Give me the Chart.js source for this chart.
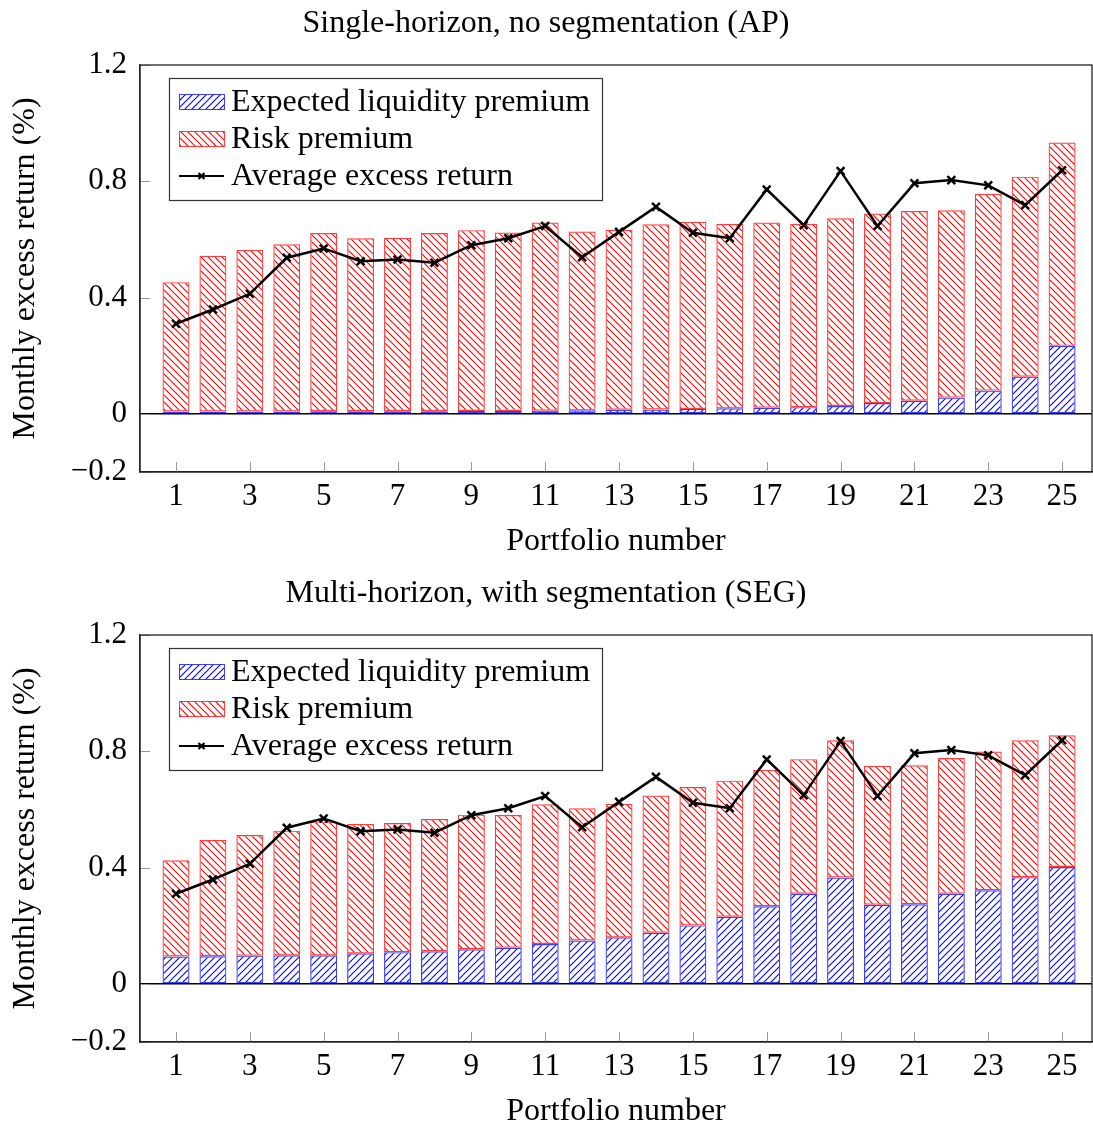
<!DOCTYPE html>
<html>
<head>
<meta charset="utf-8">
<title>Liquidity and risk premia by portfolio</title>
<script src="https://cdn.jsdelivr.net/npm/chart.js@4/dist/chart.umd.min.js"></script>
<style>
  html, body { margin: 0; padding: 0; background: #fff; overflow: hidden; }
  .panel { position: absolute; left: 0; width: 1093px; height: 570px; }
</style>
</head>
<body>
<div class="panel" style="top:0"><canvas id="apChart" width="1093" height="570"></canvas></div>
<div class="panel" style="top:570px"><canvas id="segChart" width="1093" height="570"></canvas></div>
<script>
// Portfolio numbers and axis ticks
const portfolios = [1, 2, 3, 4, 5, 6, 7, 8, 9, 10, 11, 12, 13, 14, 15, 16, 17, 18, 19, 20, 21, 22, 23, 24, 25];
const xTickValues = [1, 3, 5, 7, 9, 11, 13, 15, 17, 19, 21, 23, 25];
const yTickValues = [-0.2, 0, 0.4, 0.8, 1.2];

// Average monthly excess return (%), same in both panels
const avgExcessReturn = [0.310, 0.359, 0.413, 0.537, 0.569, 0.525, 0.531, 0.520, 0.580, 0.604,
                         0.646, 0.539, 0.626, 0.712, 0.623, 0.604, 0.772, 0.649, 0.835, 0.646,
                         0.793, 0.804, 0.786, 0.718, 0.838];

// Single-horizon, no segmentation (AP)
const apLiquidityPremium = [0.008, 0.008, 0.008, 0.008, 0.009, 0.009, 0.009, 0.009, 0.010, 0.010,
                            0.011, 0.012, 0.014, 0.015, 0.017, 0.019, 0.021, 0.023, 0.027, 0.037,
                            0.045, 0.056, 0.080, 0.128, 0.234];
const apRiskPremium = [0.445, 0.536, 0.556, 0.575, 0.613, 0.595, 0.597, 0.613, 0.622, 0.614,
                       0.647, 0.615, 0.619, 0.637, 0.644, 0.634, 0.637, 0.631, 0.646, 0.652,
                       0.653, 0.644, 0.677, 0.688, 0.699];

// Multi-horizon, with segmentation (SEG)
const segLiquidityPremium = [0.094, 0.095, 0.097, 0.098, 0.098, 0.105, 0.109, 0.112, 0.119, 0.124,
                             0.137, 0.149, 0.160, 0.176, 0.201, 0.231, 0.267, 0.310, 0.366, 0.272,
                             0.274, 0.310, 0.322, 0.367, 0.402];
const segRiskPremium = [0.331, 0.400, 0.415, 0.429, 0.460, 0.445, 0.444, 0.455, 0.463, 0.457,
                        0.481, 0.455, 0.459, 0.472, 0.476, 0.468, 0.469, 0.463, 0.472, 0.478,
                        0.478, 0.467, 0.477, 0.471, 0.453];

const SERIF = "'Liberation Serif', 'DejaVu Serif', serif";

// Diagonal hatch fill: 'ne' = north-east lines (/), 'nw' = north-west lines (\)
function hatchPattern(color, dir) {
  const s = 7;
  const c = document.createElement('canvas');
  c.width = s; c.height = s;
  const g = c.getContext('2d');
  g.strokeStyle = color;
  g.lineWidth = 1.1;
  g.beginPath();
  if (dir === 'ne') {
    g.moveTo(-1, s + 1); g.lineTo(s + 1, -1);
    g.moveTo(-1, 1); g.lineTo(1, -1);
    g.moveTo(s - 1, s + 1); g.lineTo(s + 1, s - 1);
  } else {
    g.moveTo(-1, -1); g.lineTo(s + 1, s + 1);
    g.moveTo(s - 1, -1); g.lineTo(s + 1, 1);
    g.moveTo(-1, s - 1); g.lineTo(1, s + 1);
  }
  g.stroke();
  return g.createPattern(c, 'repeat');
}

// Box around the plot plus short inward tick marks
const framePlugin = {
  id: 'frame',
  afterDatasetsDraw(chart) {
    const { ctx, chartArea: a, scales: { x, y } } = chart;
    ctx.save();
    ctx.strokeStyle = '#999';
    ctx.lineWidth = 1;
    ctx.beginPath();
    xTickValues.forEach(v => {
      const px = Math.round(x.getPixelForValue(v)) + 0.5;
      ctx.moveTo(px, a.bottom); ctx.lineTo(px, a.bottom - 10);
    });
    yTickValues.forEach(v => {
      const py = Math.round(y.getPixelForValue(v)) + 0.5;
      ctx.moveTo(a.left, py); ctx.lineTo(a.left + 10, py);
    });
    ctx.stroke();
    ctx.strokeStyle = '#222';
    ctx.lineWidth = 1.3;
    ctx.strokeRect(a.left, a.top, a.right - a.left, a.bottom - a.top);
    ctx.restore();
  }
};

// Boxed legend in the upper-left corner of the plot
const boxedLegendPlugin = {
  id: 'boxedLegend',
  afterDraw(chart) {
    const { ctx, chartArea: a } = chart;
    const left = a.left + 29, top = a.top + 13, w = 433, h = 122;
    ctx.save();
    ctx.fillStyle = '#fff';
    ctx.fillRect(left, top, w, h);
    ctx.strokeStyle = '#333';
    ctx.lineWidth = 1.2;
    ctx.strokeRect(left + 0.5, top + 0.5, w, h);
    const order = [1, 2, 0]; // liquidity, risk, average return
    order.forEach((di, row) => {
      const ds = chart.data.datasets[di];
      const cy = top + 24 + row * 37;
      const sx = left + 10, sw = 45;
      if (ds.type === 'line') {
        ctx.strokeStyle = '#000';
        ctx.lineWidth = 2.2;
        ctx.beginPath();
        ctx.moveTo(sx, cy); ctx.lineTo(sx + sw, cy);
        ctx.stroke();
        const d = 3;
        ctx.beginPath();
        ctx.moveTo(sx + sw / 2 - d, cy - d); ctx.lineTo(sx + sw / 2 + d, cy + d);
        ctx.moveTo(sx + sw / 2 - d, cy + d); ctx.lineTo(sx + sw / 2 + d, cy - d);
        ctx.stroke();
      } else {
        ctx.fillStyle = ds.backgroundColor;
        ctx.fillRect(sx, cy - 7.5, sw, 15);
        ctx.strokeStyle = ds.borderColor;
        ctx.lineWidth = 1;
        ctx.strokeRect(sx + 0.5, cy - 7.5, sw, 15);
      }
      ctx.fillStyle = '#000';
      ctx.font = '32px ' + SERIF;
      ctx.textBaseline = 'middle';
      ctx.textAlign = 'left';
      ctx.fillText(ds.label, sx + sw + 7, cy + 1);
    });
    ctx.restore();
  }
};

function makeChart(canvasId, titleText, liquidity, risk) {
  const canvas = document.getElementById(canvasId);
  const ctx = canvas.getContext('2d');
  const blueHatch = hatchPattern('#0000ff', 'ne');
  const redHatch = hatchPattern('#ff0000', 'nw');
  return new Chart(ctx, {
    type: 'bar',
    data: {
      datasets: [
        {
          type: 'line',
          label: 'Average excess return',
          data: portfolios.map((p, i) => ({ x: p, y: avgExcessReturn[i] })),
          stack: 'avg',
          order: 0,
          borderColor: '#000',
          backgroundColor: '#000',
          borderWidth: 2.5,
          tension: 0,
          pointStyle: 'crossRot',
          pointRadius: 5.5,
          pointBorderWidth: 2.5,
          pointBorderColor: '#000'
        },
        {
          label: 'Expected liquidity premium',
          data: portfolios.map((p, i) => ({ x: p, y: liquidity[i] })),
          stack: 'premium',
          order: 1,
          backgroundColor: blueHatch,
          borderColor: 'rgba(40,40,255,0.9)',
          borderWidth: 1.2,
          borderSkipped: false,
          barPercentage: 0.73,
          categoryPercentage: 1
        },
        {
          label: 'Risk premium',
          data: portfolios.map((p, i) => ({ x: p, y: risk[i] })),
          stack: 'premium',
          order: 1,
          backgroundColor: redHatch,
          borderColor: 'rgba(255,40,40,0.9)',
          borderWidth: 1.2,
          borderSkipped: false,
          barPercentage: 0.73,
          categoryPercentage: 1
        }
      ]
    },
    options: {
      responsive: false,
      animation: false,
      layout: { autoPadding: false, padding: { left: 0, right: 1, top: 0, bottom: 0 } },
      plugins: {
        legend: { display: false },
        tooltip: { enabled: false },
        title: {
          display: true,
          text: titleText,
          color: '#000',
          font: { family: SERIF, size: 32, weight: 'normal', lineHeight: 1.2 },
          padding: { top: 4, bottom: 22.6 }
        }
      },
      scales: {
        x: {
          type: 'linear',
          stacked: true,
          offset: false,
          min: 0.025,
          max: 25.81,
          afterBuildTicks: s => { s.ticks = xTickValues.map(v => ({ value: v })); },
          afterFit: s => { s.height = 98; },
          grid: { display: false, offset: false, drawTicks: false },
          border: { display: true, color: '#222', width: 1.3 },
          ticks: {
            color: '#000',
            font: { family: SERIF, size: 31 },
            padding: 6,
            maxRotation: 0,
            autoSkip: false,
            callback: v => String(v)
          },
          title: {
            display: true,
            text: 'Portfolio number',
            color: '#000',
            font: { family: SERIF, size: 32, lineHeight: 1.2 },
            padding: { top: 0, bottom: 9 }
          }
        },
        y: {
          type: 'linear',
          stacked: true,
          min: -0.2,
          max: 1.2,
          afterBuildTicks: s => { s.ticks = yTickValues.map(v => ({ value: v })); },
          afterFit: s => { s.width = 140; },
          grid: {
            drawTicks: false,
            color: c => (c.tick && c.tick.value === 0) ? '#000' : 'rgba(0,0,0,0)',
            lineWidth: 1.4
          },
          border: { display: true, color: '#222', width: 1.3 },
          ticks: {
            color: '#000',
            font: { family: SERIF, size: 31 },
            padding: 13,
            callback: v => v < 0 ? '\u2212' + Math.abs(v).toFixed(1) : (v === 0 ? '0' : v.toFixed(1))
          },
          title: {
            display: true,
            text: 'Monthly excess return (%)',
            color: '#000',
            font: { family: SERIF, size: 32, lineHeight: 1.2 },
            padding: { top: 6, bottom: 0 }
          }
        }
      }
    },
    plugins: [framePlugin, boxedLegendPlugin]
  });
}

makeChart('apChart', 'Single-horizon, no segmentation (AP)', apLiquidityPremium, apRiskPremium);
makeChart('segChart', 'Multi-horizon, with segmentation (SEG)', segLiquidityPremium, segRiskPremium);
</script>
</body>
</html>
